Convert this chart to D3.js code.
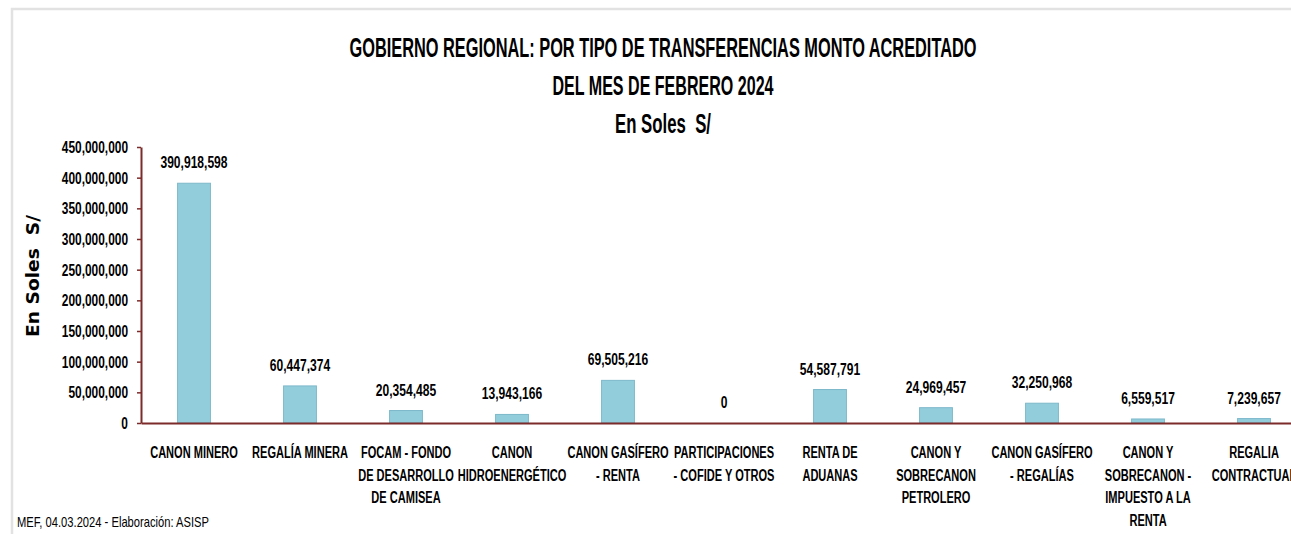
<!DOCTYPE html>
<html>
<head>
<meta charset="utf-8">
<script src="https://cdn.jsdelivr.net/npm/d3@7"></script>
<style>
	body { margin: 0; background: #fff; }
	svg { display: block; }
	text { fill: #000; white-space: pre; }
</style>
</head>
<body>
<svg width="1291" height="534"></svg>
<script>
//	DATA

var categories = [
	"CANON MINERO",
	"REGALÍA MINERA",
	"FOCAM - FONDO\nDE DESARROLLO\nDE CAMISEA",
	"CANON\nHIDROENERGÉTICO",
	"CANON GASÍFERO\n- RENTA",
	"PARTICIPACIONES\n- COFIDE Y OTROS",
	"RENTA DE\nADUANAS",
	"CANON Y\nSOBRECANON\nPETROLERO",
	"CANON GASÍFERO\n- REGALÍAS",
	"CANON Y\nSOBRECANON -\nIMPUESTO A LA\nRENTA",
	"REGALIA\nCONTRACTUAL"
];
var montos = [390918598, 60447374, 20354485, 13943166, 69505216, 0,
	54587791, 24969457, 32250968, 6559517, 7239657];
var yTicks = [0, 50e6, 100e6, 150e6, 200e6, 250e6, 300e6, 350e6, 400e6, 450e6];
var titulo = [
	"GOBIERNO REGIONAL: POR TIPO DE TRANSFERENCIAS MONTO ACREDITADO",
	"DEL MES DE FEBRERO 2024",
	"En Soles  S/"
];
var yLabel = "En Soles  S/",
	fuente = "MEF, 04.03.2024 - Elaboración: ASISP";

var sans = "'Liberation Sans', Arial, sans-serif",
	axisColor = "#7d2a2a",
	fmt = d3.format(",");

//	squeeze text horizontally (the original font is a narrow one)
function squeeze(sel, f) {
	sel.each(function() {
		var w = this.getComputedTextLength();
		d3.select(this).attr("textLength", w * f).attr("lengthAdjust", "spacingAndGlyphs");
	});
}

var svg = d3.select("svg");

//	frame of the pasted chart
svg.append("path")
	.attr("d", "M12,1291V9H1291")
	.attr("fill", "none")
	.attr("stroke", "#e2e2e2")
	.attr("stroke-width", 2.5);

//	SCALES

var x = d3.scaleBand()
	.domain(categories)
	.range([141, 1307])
	.paddingInner(0.69)
	.paddingOuter(0.345);

var y = d3.scaleLinear()
	.domain([0, 450e6])
	.range([423, 147]);

//	TITLE

var titleY = [57, 95, 133],
	titleW = [627, 221, 96];
svg.selectAll(".title").data(titulo).enter().append("text")
	.attr("class", "title")
	.attr("x", 663)
	.attr("y", function(d, i) { return titleY[i]; })
	.attr("text-anchor", "middle")
	.attr("textLength", function(d, i) { return titleW[i]; })
	.attr("lengthAdjust", "spacingAndGlyphs")
	.style("font-family", sans)
	.style("font-weight", "bold")
	.style("font-size", "27px")
	.text(function(d) { return d; });

//	BARS

svg.selectAll(".bar").data(montos).enter().append("rect")
	.attr("class", "bar")
	.attr("x", function(d, i) { return x(categories[i]); })
	.attr("width", x.bandwidth())
	.attr("y", function(d) { return y(d); })
	.attr("height", function(d) { return y(0) - y(d); })
	.attr("fill", "#92cddc")
	.attr("stroke", "#7db9cb")
	.attr("stroke-width", 1);

//	value labels
svg.selectAll(".val").data(montos).enter().append("text")
	.attr("class", "val")
	.attr("x", function(d, i) { return x(categories[i]) + x.bandwidth() / 2; })
	.attr("y", function(d) { return y(d) - 15; })
	.attr("text-anchor", "middle")
	.style("font-family", sans)
	.style("font-weight", "bold")
	.style("font-size", "17px")
	.text(function(d) { return fmt(d); })
	.call(squeeze, 0.71);

//	AXES

var yAxis = svg.append("g")
	.attr("transform", "translate(141,0)")
	.call(d3.axisLeft(y).tickValues(yTicks).tickFormat(fmt).tickSize(4).tickSizeOuter(0).tickPadding(9));

var xAxis = svg.append("g")
	.attr("transform", "translate(0," + y(0) + ")")
	.call(d3.axisBottom(x).tickSize(0).tickSizeOuter(0).tickFormat(""));

[yAxis, xAxis].forEach(function(g) {
	g.select(".domain").attr("stroke", axisColor).attr("stroke-width", 2);
	g.selectAll(".tick line").attr("stroke", axisColor).attr("stroke-width", 1.5);
	g.selectAll("text")
		.style("font-family", sans)
		.style("font-weight", "bold")
		.style("font-size", "17px")
		.attr("fill", "#000");
});
yAxis.selectAll(".tick text").call(squeeze, 0.7);

//	multi-line category labels
xAxis.selectAll(".tick text")
	.style("font-size", "16px")
	.attr("y", 0)
	.attr("dy", null)
	.each(function(d) {
		var t = d3.select(this);
		d.split("\n").forEach(function(s, k) {
			t.append("tspan")
				.attr("x", 0)
				.attr("y", 35 + k * 22.5)
				.text(s);
		});
	});
xAxis.selectAll(".tick tspan").call(squeeze, 0.69);

//	y axis title
svg.append("text")
	.attr("transform", "translate(39,276) rotate(-90)")
	.attr("text-anchor", "middle")
	.attr("textLength", 122)
	.attr("lengthAdjust", "spacingAndGlyphs")
	.style("font-family", "'DejaVu Sans', Verdana, sans-serif")
	.style("font-weight", "bold")
	.style("font-size", "17px")
	.text(yLabel);

//	source note
svg.append("text")
	.attr("x", 17)
	.attr("y", 527)
	.attr("textLength", 192)
	.attr("lengthAdjust", "spacingAndGlyphs")
	.style("font-family", sans)
	.style("font-size", "15px")
	.text(fuente);
</script>
</body>
</html>
